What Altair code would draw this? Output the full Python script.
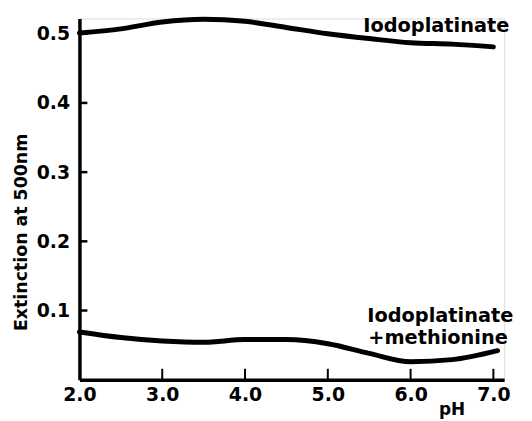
import altair as alt
import pandas as pd

# Data
ph_top = [2.0, 2.5, 3.0, 3.5, 4.0, 4.5, 5.0, 5.5, 6.0, 6.5, 7.0]
ext_top = [0.501, 0.507, 0.517, 0.521, 0.518, 0.509, 0.500, 0.493, 0.487, 0.485, 0.481]

ph_bot = [2.0, 2.5, 3.0, 3.5, 4.0, 4.5, 5.0, 5.5, 6.0, 6.5, 7.05]
ext_bot = [0.069, 0.061, 0.056, 0.054, 0.058, 0.058, 0.052, 0.038, 0.026, 0.029, 0.042]

x_ticks = [3.0, 4.0, 5.0, 6.0, 7.0]
x_labels = [2.0, 3.0, 4.0, 5.0, 6.0, 7.0]
y_ticks = [0.1, 0.2, 0.3, 0.4, 0.5]

label_texts = ["Iodoplatinate", "Iodoplatinate", "+methionine"]

FONT = "DejaVu Sans"
W, H = 428, 364

df = pd.concat([
    pd.DataFrame({"pH": ph_top, "ext": ext_top, "series": "top"}),
    pd.DataFrame({"pH": ph_bot, "ext": ext_bot, "series": "bottom"}),
])

xscale = alt.Scale(domain=[2.0, 7.13], nice=False, zero=False)
yscale = alt.Scale(domain=[0.0, 0.522], nice=False)

xaxis = alt.Axis(values=x_labels, format=".1f", tickSize=0, grid=False,
                 labelFlush=False, labelOverlap=False,
                 domainColor="black", domainWidth=3.5, labelFont=FONT,
                 labelFontSize=19, labelFontWeight="bold", labelColor="black",
                 labelPadding=6, title="pH", titleFont=FONT, titleFontSize=17,
                 titleFontWeight="bold", titleX=375, titleY=30,
                 titleBaseline="middle", titleColor="black")
yaxis = alt.Axis(values=y_ticks, format=".1f", tickSize=0, grid=False,
                 labelFlush=False, labelOverlap=False,
                 domainColor="black", domainWidth=3.5, labelFont=FONT,
                 labelFontSize=19, labelFontWeight="bold", labelColor="black",
                 labelPadding=10, title="Extinction at 500nm", titleFont=FONT,
                 titleFontSize=17.5, titleFontWeight="bold", titleX=-58,
                 titleY=215, titleBaseline="middle", titleColor="black")

lines = alt.Chart(df).mark_line(
    color="black", strokeWidth=5, interpolate="monotone", strokeCap="round"
).encode(
    x=alt.X("pH:Q", scale=xscale, axis=xaxis),
    y=alt.Y("ext:Q", scale=yscale, axis=yaxis),
    detail="series:N",
)

xt = alt.Chart(pd.DataFrame({"pH": x_ticks})).mark_rule(
    color="black", strokeWidth=2
).encode(
    x=alt.X("pH:Q", scale=xscale),
    y=alt.value(H),
    y2=alt.value(H - 11),
)

yt = alt.Chart(pd.DataFrame({"ext": y_ticks})).mark_rule(
    color="black", strokeWidth=2.5
).encode(
    y=alt.Y("ext:Q", scale=yscale),
    x=alt.value(0),
    x2=alt.value(8),
)

labels_df = pd.DataFrame({"text": label_texts})
text_style = dict(font=FONT, fontSize=19.5, fontWeight="bold", align="left",
                  baseline="middle", color="black")
lab_top = alt.Chart(labels_df.iloc[[0]]).mark_text(**text_style).encode(
    text="text:N", x=alt.value(286), y=alt.value(8))
lab_b1 = alt.Chart(labels_df.iloc[[1]]).mark_text(**text_style).encode(
    text="text:N", x=alt.value(290), y=alt.value(300))
lab_b2 = alt.Chart(labels_df.iloc[[2]]).mark_text(**text_style).encode(
    text="text:N", x=alt.value(291), y=alt.value(322))

chart = alt.layer(lines, xt, yt, lab_top, lab_b1, lab_b2).properties(
    width=W, height=H,
    autosize=alt.AutoSizeParams(type="none"),
    padding={"left": 72, "top": 9, "right": 20, "bottom": 40},
).configure_view(stroke=None).configure(background="white")

chart.save("out.html", embed_options={"renderer": "svg", "actions": False})
